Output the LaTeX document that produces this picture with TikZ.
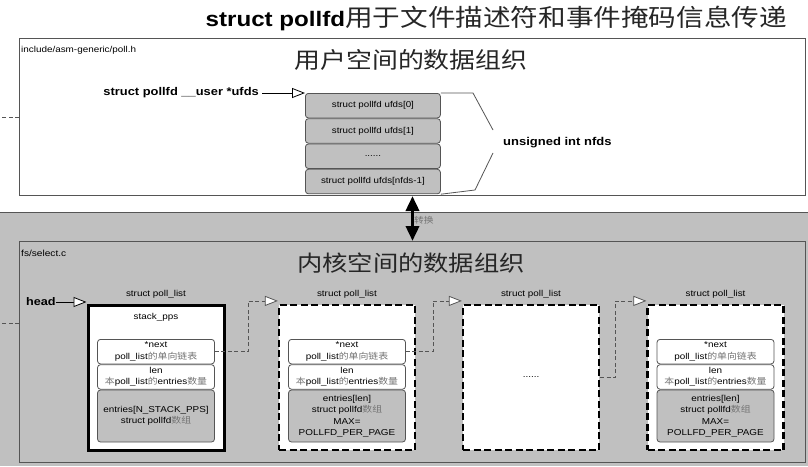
\documentclass[tikz,border=0pt]{standalone}
\usepackage{fontspec}
\setmainfont{Liberation Sans}[FakeStretch=1.15]
\newfontfamily\cjk{Noto Sans CJK SC}[FakeStretch=1.15]
\usepackage{tikz}
\usetikzlibrary{arrows.meta}
\usetikzlibrary{positioning}

\definecolor{bandgray}{RGB}{192,192,192}
\definecolor{edgegray}{RGB}{85,85,85}
\definecolor{zhgray}{RGB}{115,115,115}
\newcommand{\fsz}[2]{\fontsize{#1}{#2}\selectfont}
\newcommand{\zh}[1]{{\cjk\color{zhgray}#1}}

\tikzset{
  area/.style={draw=edgegray, line width=1pt, inner sep=0pt, anchor=north west},
  ufdcell/.style={draw=edgegray, fill=bandgray, line width=0.8pt, rounded corners=3pt,
    minimum width=135pt, minimum height=24.5pt, inner sep=0pt, font=\fsz{8.5}{10}},
  cell/.style={draw=edgegray, line width=0.8pt, rounded corners=3pt, minimum width=117pt,
    inner sep=0pt, align=center, anchor=north, font=\fsz{8.6}{11.5}},
  listbox/.style={fill=white, draw=black, minimum width=136pt, minimum height=145pt,
    inner sep=0pt, font=\fsz{8.6}{10}},
  firstbox/.style={listbox, line width=3pt},
  nextbox/.style={listbox, line width=2.2pt, dash pattern=on 7pt off 3.5pt},
  listlabel/.style={inner sep=0pt, font=\fsz{8.6}{10}},
  ptr/.style={draw=black, line width=0.8pt, -{Triangle[length=13pt,width=10pt,fill=white]}},
  link/.style={draw=edgegray, line width=0.8pt, dash pattern=on 4pt off 2.5pt,
    -{Triangle[length=13pt,width=10pt,fill=white]}},
  stub/.style={draw=edgegray, line width=0.8pt, dash pattern=on 4pt off 2.5pt},
  convarrow/.style={line width=3.5pt,
    {Triangle[length=15pt,width=13pt]}-{Triangle[length=15pt,width=13pt]}},
}

\begin{document}
\begin{tikzpicture}[x=1pt,y=-1pt]
  \useasboundingbox (0,0) rectangle (808,466);

  % Title
  \node[anchor=east, inner sep=0pt] (title) at (787,18)
    {\fsz{21}{24}\bfseries struct pollfd{\cjk\mdseries\color{black!85}\fsz{24}{26}用于文件描述符和事件掩码信息传递}};

  % User space
  \node[area, fill=white, minimum width=786pt, minimum height=157pt] (user) at (19,38) {};
  \draw[stub] (user.west) -- ++(-19,0);
  \node[anchor=west, inner sep=0pt, font=\fsz{8.6}{10}] (hdr) at (21,50) {include/asm-generic/poll.h};
  \node[inner sep=0pt, font=\cjk\fsz{22.5}{24}, text=black!85] (ustitle) at (411,60) {用户空间的数据组织};

  \node[ufdcell, anchor=north west] (a0) at (305,93) {struct pollfd ufds[0]};
  \node[ufdcell, anchor=north] (a1) at (a0.south) {struct pollfd ufds[1]};
  \node[ufdcell, anchor=north] (a2) at (a1.south) {......};
  \node[ufdcell, anchor=north] (a3) at (a2.south) {struct pollfd ufds[nfds-1]};

  \node[anchor=east, inner sep=0pt, font=\bfseries\fsz{11.2}{13}] (ufds) at (259,93) {struct pollfd \_\_user *ufds};
  \draw[ptr] ([xshift=3pt]ufds.east) -- (a0.north west);

  % nfds brace
  \draw[edgegray, line width=0.8pt] (a0.north east) -- (473,93) -- (493,130);
  \draw[edgegray, line width=0.8pt] (493,153) -- (475,190) -- (a3.south east);
  \node[anchor=west, inner sep=0pt, font=\bfseries\fsz{11.3}{13}] (nfds) at (503,143) {unsigned int nfds};

  % Kernel space
  \fill[bandgray] (0,212) rectangle (808,466);
  \draw[edgegray, line width=1pt] (0,212) -- (808,212);
  \node[area, fill=bandgray, minimum width=786pt, minimum height=221pt] (kern) at (19,241) {};
  \draw[stub] ([yshift=28.5pt]kern.west) -- ++(-19,0);

  \draw[convarrow] (user.south) -- (kern.north);
  \node[anchor=west, inner sep=0pt, font=\cjk\fsz{8.5}{10}, text=zhgray] (conv) at (414,220) {转换};

  \node[anchor=west, inner sep=0pt, font=\fsz{8.8}{10}] (src) at (21,253) {fs/select.c};
  \node[inner sep=0pt, font=\cjk\fsz{22}{24}, text=black!85] (kstitle) at (411,263) {内核空间的数据组织};

  \node[firstbox] (b1) at (156,377.5) {};
  \node[nextbox] (b2) at (347,377.5) {};
  \node[nextbox] (b3) at (531,377.5) {......};
  \node[nextbox] (b4) at (715.5,377.5) {};

  \node[listlabel] (t1) at (156,294) {struct poll\_list};
  \node[listlabel] (t2) at (347,294) {struct poll\_list};
  \node[listlabel] (t3) at (531,294) {struct poll\_list};
  \node[listlabel] (t4) at (715.5,294) {struct poll\_list};

  \node[listlabel] (stk) at (156,317) {stack\_pps};

  \node[cell, fill=white, minimum height=24.5pt] (n1) at (156,339) {*next\\poll\_list\zh{的单向链表}};
  \node[cell, fill=white, minimum height=24.5pt] (l1) at (n1.south) {len\\\zh{本}poll\_list\zh{的}entries\zh{数量}};
  \node[cell, fill=bandgray, minimum height=52pt] (e1) at (l1.south) {entries[N\_STACK\_PPS]\\struct pollfd\zh{数组}};

  \node[cell, fill=white, minimum height=24.5pt] (n2) at (347,339) {*next\\poll\_list\zh{的单向链表}};
  \node[cell, fill=white, minimum height=24.5pt] (l2) at (n2.south) {len\\\zh{本}poll\_list\zh{的}entries\zh{数量}};
  \node[cell, fill=bandgray, minimum height=52pt] (e2) at (l2.south) {entries[len]\\struct pollfd\zh{数组}\\MAX=\\POLLFD\_PER\_PAGE};

  \node[cell, fill=white, minimum height=24.5pt] (n4) at (715.5,339) {*next\\poll\_list\zh{的单向链表}};
  \node[cell, fill=white, minimum height=24.5pt] (l4) at (n4.south) {len\\\zh{本}poll\_list\zh{的}entries\zh{数量}};
  \node[cell, fill=bandgray, minimum height=52pt] (e4) at (l4.south) {entries[len]\\struct pollfd\zh{数组}\\MAX=\\POLLFD\_PER\_PAGE};

  % list links
  \node[anchor=west, inner sep=0pt, font=\bfseries\fsz{11}{13}] (head) at (26,302) {head};
  \draw[ptr] (head.east) -- (head -| b1.west);
  \draw[link] (n1.east) -- ++(33.5,0) |- ([yshift=3pt]b2.north west);
  \draw[link] (n2.east) -- ++(27,0) |- ([yshift=3pt]b3.north west);
  \draw[link] (b3.east) -- ++(15,0) |- ([yshift=3pt]b4.north west);
\end{tikzpicture}
\end{document}
